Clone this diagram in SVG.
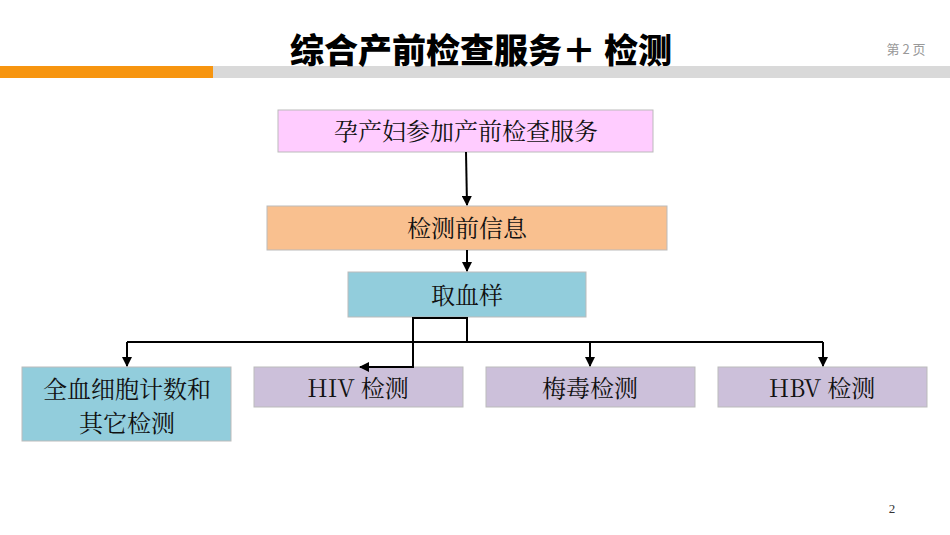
<svg xmlns="http://www.w3.org/2000/svg" width="950" height="535" viewBox="0 0 950 535">
<style>
.t{font-family:"Noto Serif CJK SC","Liberation Serif","Noto Sans CJK SC",serif;font-size:24px;fill:#111;text-anchor:middle}
.c{stroke:#000;stroke-width:2;fill:none}
.b{stroke:#bbb;stroke-width:1}
</style>
<defs><marker id="a" viewBox="0 0 10 10" refX="9" refY="5" markerWidth="5" markerHeight="5" orient="auto"><path d="M0,0L10,5L0,10z" fill="#000"/></marker></defs>
<rect width="950" height="535" fill="#fff"/>
<rect x="0" y="66" width="213" height="12" fill="#f7950f"/>
<rect x="213" y="66" width="737" height="12" fill="#d9d9d9"/>
<text x="481" y="63" style="font-family:'Noto Sans CJK SC',sans-serif;font-weight:900;font-size:34px;text-anchor:middle">综合产前检查服务＋ 检测</text>
<text x="906" y="54" style="font-family:'Noto Sans CJK SC',sans-serif;font-size:13px;fill:#999;text-anchor:middle">第 2 页</text>
<text x="892" y="513" style="font-family:'Liberation Serif',serif;font-size:13px;fill:#333;text-anchor:middle">2</text>
<g id="n1"><rect class="b" x="278" y="110" width="375" height="42" fill="#ffccff"/><text class="t" x="466" y="140">孕产妇参加产前检查服务</text></g>
<g id="n2"><rect class="b" x="267" y="206" width="400" height="44" fill="#f9c08f"/><text class="t" x="467" y="237">检测前信息</text></g>
<g id="n3"><rect class="b" x="348" y="272" width="238" height="45" fill="#92cddc"/><text class="t" x="467" y="304">取血样</text></g>
<g id="n4"><rect class="b" x="22" y="367" width="209" height="74" fill="#92cddc"/><text class="t" x="127" y="398">全血细胞计数和</text><text class="t" x="127" y="432">其它检测</text></g>
<g id="n5"><rect class="b" x="254" y="367" width="209" height="40" fill="#ccc0da"/><text class="t" x="358" y="397">HIV 检测</text></g>
<g id="n6"><rect class="b" x="486" y="367" width="209" height="40" fill="#ccc0da"/><text class="t" x="590" y="397">梅毒检测</text></g>
<g id="n7"><rect class="b" x="718" y="367" width="209" height="40" fill="#ccc0da"/><text class="t" x="822" y="397">HBV  检测</text></g>
<g id="connectors">
<path class="c" d="M466,152L467,205" marker-end="url(#a)"/>
<path class="c" d="M467,250L467,271" marker-end="url(#a)"/>
<path class="c" d="M467,317V342M127,342H823M127,342V366M590,342V366M823,342V366" marker-end="url(#a)"/>
<path class="c" d="M127,342V366" marker-end="url(#a)"/>
<path class="c" d="M590,342V366" marker-end="url(#a)"/>
<path class="c" d="M467,318H413V367H360" marker-end="url(#a)"/>
</g>
</svg>
